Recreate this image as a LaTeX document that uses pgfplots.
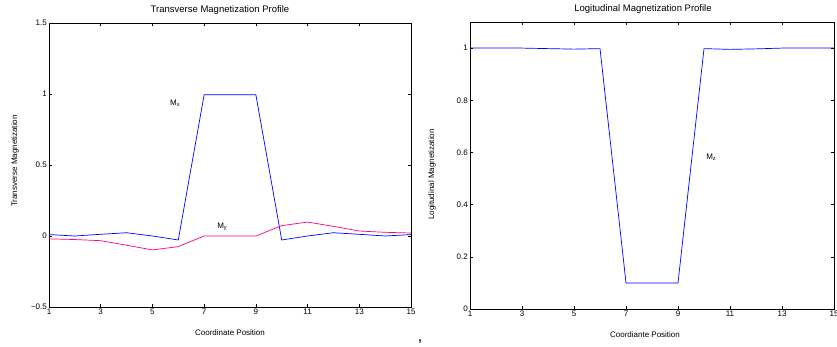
\documentclass[border=0pt]{standalone}
\usepackage{fontspec}
\setmainfont{Liberation Sans}
\usepackage{pgfplots}
\pgfplotsset{compat=1.18}
\definecolor{mblue}{rgb}{0,0,1}
\definecolor{mpink}{rgb}{1,0,0.5}
\begin{document}
\begin{tikzpicture}
\useasboundingbox (0,0) rectangle (837bp,347bp);
\pgfplotsset{
  every axis/.append style={
    scale only axis,
    axis line style={line width=0.8bp},
    tick align=inside,
    major tick length=3bp,
    tick style={line width=0.6bp, black},
    xmin=1, xmax=15,
    xtick={1,3,5,7,9,11,13,15},
    ticklabel style={font=\fontsize{8bp}{9bp}\selectfont},
    /pgf/number format/assume math mode=true,
    xticklabel style={inner sep=1.5bp},
    yticklabel style={inner sep=2bp},
    label style={font=\fontsize{8bp}{9bp}\selectfont},
    title style={font=\fontsize{9.5bp}{10bp}\selectfont, at={(0.5,1)}, anchor=base, inner sep=0pt, yshift=4.5bp, xshift=-10bp},
    xlabel style={at={(0.5,0)}, anchor=base, inner sep=0pt, yshift=-28.5bp},
    ylabel style={at={(0,0.5)}, anchor=center, inner sep=0pt},
  }
}
\begin{axis}[
  at={(49bp,40bp)}, anchor=south west,
  width=362bp, height=284bp,
  ymin=-0.5, ymax=1.5,
  ytick={-0.5,0,0.5,1,1.5},
  yticklabels={−0.5,0,0.5,1,1.5},
  title={Transverse Magnetization Profile},
  xlabel={Coordinate Position},
  ylabel={Transverse Magnetization},
  ylabel style={yshift=34bp, xshift=4bp},
]
\addplot[mblue, line width=0.7bp] coordinates {
(1,0.010) (2,0.000) (3,0.012) (4,0.023) (5,0.000) (6,-0.028)
(7,0.995) (8,0.995) (9,0.995) (10,-0.028) (11,0.000) (12,0.023)
(13,0.012) (14,0.000) (15,0.010)};
\addplot[mpink, line width=0.7bp] coordinates {
(1,-0.020) (2,-0.025) (3,-0.033) (4,-0.065) (5,-0.098) (6,-0.075)
(7,0) (8,0) (9,0) (10,0.073) (11,0.098) (12,0.068)
(13,0.035) (14,0.026) (15,0.021)};
\node[anchor=base west, inner sep=0pt, font=\fontsize{8bp}{9bp}\selectfont] at (axis cs:5.68,0.919) {M\textsubscript{x}};
\node[anchor=base west, inner sep=0pt, font=\fontsize{8bp}{9bp}\selectfont] at (axis cs:7.50,0.056) {M\textsubscript{y}};
\end{axis}
\begin{axis}[
  at={(470bp,38bp)}, anchor=south west,
  width=364bp, height=287bp,
  ymin=0, ymax=1.1,
  ytick={0,0.2,0.4,0.6,0.8,1},
  title={Logitudinal Magnetization Profile},
  title style={xshift=1bp},
  xlabel={Coordiante Position},
  xlabel style={xshift=-7bp},
  ylabel={Logitudinal Magnetization},
  ylabel style={yshift=38bp, xshift=-9bp},
]
\addplot[mblue, line width=0.7bp] coordinates {
(1,1.000) (2,1.000) (3,1.000) (4,0.998) (5,0.996) (6,0.998)
(7,0.100) (8,0.100) (9,0.100) (10,0.998) (11,0.995) (12,0.997)
(13,1.000) (14,1.000) (15,1.000)};
\node[anchor=base west, inner sep=0pt, font=\fontsize{8bp}{9bp}\selectfont] at (axis cs:10.08,0.573) {M\textsubscript{z}};
\end{axis}
\node[anchor=base, inner sep=0pt, font=\fontsize{16bp}{16bp}\selectfont] at (420bp,6bp) {,};
\end{tikzpicture}
\end{document}
